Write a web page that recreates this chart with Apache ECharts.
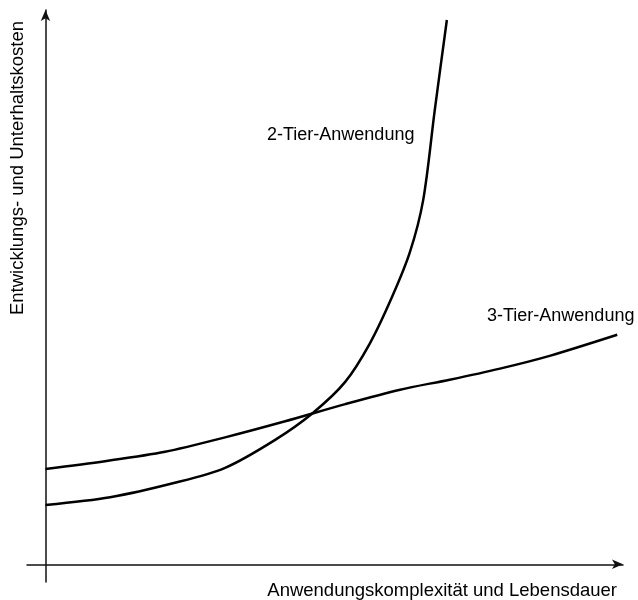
<!DOCTYPE html>
<html>
<head>
<meta charset="utf-8">
<script src="https://cdn.jsdelivr.net/npm/echarts@6/dist/echarts.min.js"></script>
<style>
  html, body { margin: 0; padding: 0; background: #fff; }
  #chart { width: 638px; height: 600px; }
</style>
</head>
<body>
<div id="chart"></div>
<script>
// values (arbitrary units, 0..100)
var twoTierX = [0, 11.2, 22.4, 31.1, 39.7, 46.3, 51.9, 56.2, 60.0, 63.1, 65.4, 67.4, 69.5];
var twoTierY = [10.7, 12.1, 14.7, 17.4, 22.4, 27.3, 32.9, 39.9, 48.2, 56.3, 65.7, 81.9, 98.2];
var threeTierX = [0, 10.3, 20.7, 31.1, 41.5, 51.9, 61.4, 70.0, 78.7, 87.3, 99.0];
var threeTierY = [17.2, 18.6, 20.3, 22.9, 25.8, 28.9, 31.5, 33.3, 35.3, 37.6, 41.4];
var seriesNames = ['2-Tier-Anwendung', '3-Tier-Anwendung'];
var xName = 'Anwendungskomplexität und Lebensdauer';
var yName = 'Entwicklungs- und Unterhaltskosten';

var font = 'Liberation Sans, Arial, sans-serif';

function pairs(xs, ys) {
  return xs.map(function(x, i) { return [x, ys[i]]; });
}

var axisLine = {
  show: true,
  onZero: true,
  symbol: ['none', 'arrow'],
  symbolSize: [7, 11],
  lineStyle: { color: '#111', width: 1.5 }
};

var option = {
  animation: false,
  backgroundColor: '#fff',
  grid: { left: 27, right: 15, top: 10, bottom: 18 },
  xAxis: {
    type: 'value', min: -3.2, max: 100,
    axisLine: axisLine,
    axisTick: { show: false }, axisLabel: { show: false }, splitLine: { show: false }
  },
  yAxis: {
    type: 'value', min: -3.2, max: 100,
    axisLine: axisLine,
    axisTick: { show: false }, axisLabel: { show: false }, splitLine: { show: false }
  },
  series: [{
    name: seriesNames[0],
    type: 'line',
    smooth: 0.3,
    showSymbol: false,
    data: pairs(twoTierX, twoTierY),
    lineStyle: { color: '#000', width: 2.5 }
  }, {
    name: seriesNames[1],
    type: 'line',
    smooth: 0.3,
    showSymbol: false,
    data: pairs(threeTierX, threeTierY),
    lineStyle: { color: '#000', width: 2.5 }
  }],
  graphic: [{
    type: 'text', left: 267, top: 126,
    style: { text: seriesNames[0], font: '18px ' + font, fill: '#000' }
  }, {
    type: 'text', left: 487, top: 307,
    style: { text: seriesNames[1], font: '18px ' + font, fill: '#000' }
  }, {
    type: 'text', right: 21, top: 581,
    style: { text: xName, font: '18.5px ' + font, fill: '#000' }
  }, {
    type: 'text', x: 8, y: 168, rotation: Math.PI / 2,
    style: { text: yName, font: '18.5px ' + font, fill: '#000', align: 'center', verticalAlign: 'top' }
  }]
};

var chart = echarts.init(document.getElementById('chart'));
chart.setOption(option);
</script>
</body>
</html>
